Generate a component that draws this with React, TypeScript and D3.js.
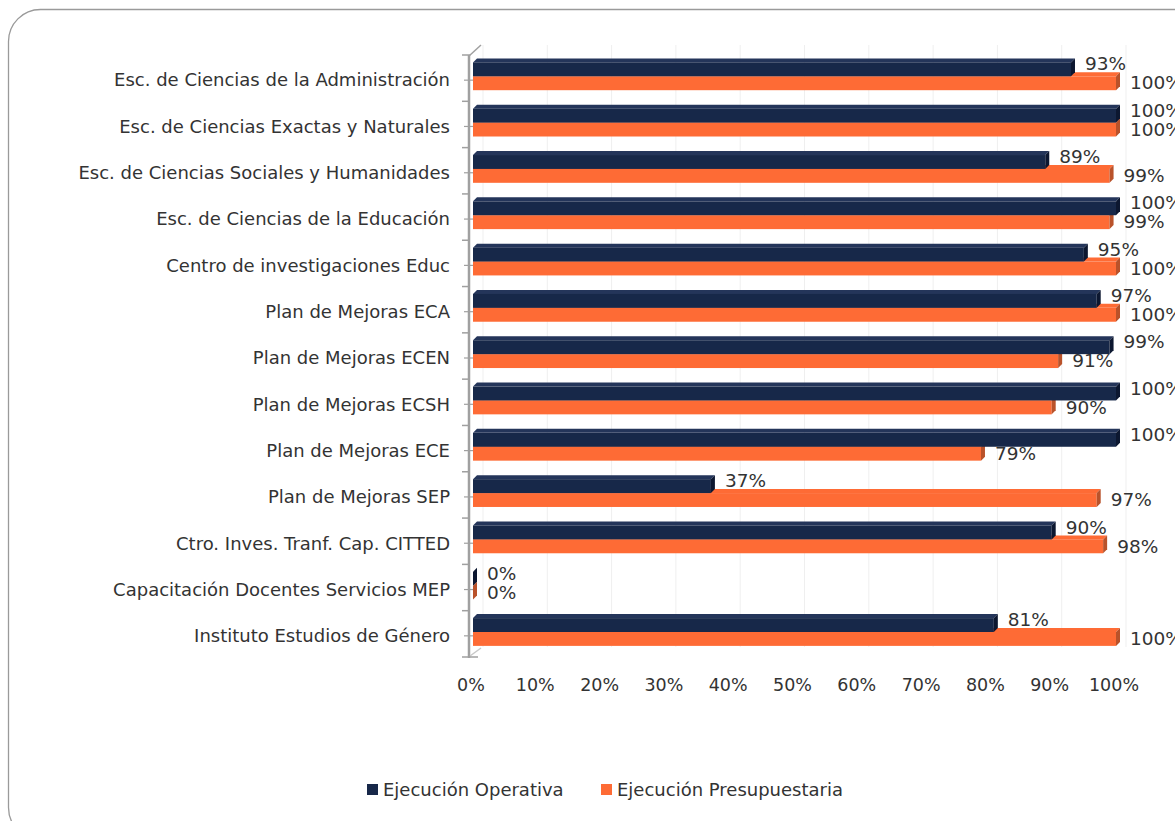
import * as d3 from 'd3';

const categories = [
  'Esc. de Ciencias de la Administración',
  'Esc. de Ciencias Exactas y Naturales',
  'Esc. de Ciencias Sociales y Humanidades',
  'Esc. de Ciencias de la Educación',
  'Centro de investigaciones Educ',
  'Plan de Mejoras ECA',
  'Plan de Mejoras ECEN',
  'Plan de Mejoras ECSH',
  'Plan de Mejoras ECE',
  'Plan de Mejoras SEP',
  'Ctro. Inves. Tranf. Cap. CITTED',
  'Capacitación Docentes Servicios MEP',
  'Instituto Estudios de Género',
];
const operativa = [0.93, 1.0, 0.89, 1.0, 0.95, 0.97, 0.99, 1.0, 1.0, 0.37, 0.9, 0, 0.81];
const presupuestaria = [1.0, 1.0, 0.99, 0.99, 1.0, 1.0, 0.91, 0.9, 0.79, 0.97, 0.98, 0, 1.0];
const seriesNames = ['Ejecución Operativa', 'Ejecución Presupuestaria'];
const xTicks = [0, 0.1, 0.2, 0.3, 0.4, 0.5, 0.6, 0.7, 0.8, 0.9, 1.0];

const FONT = '"DejaVu Sans", sans-serif';
const NAVY = '#172849';
const NAVY_SIDE = '#0c1730';
const NAVY_TOP = '#24355a';
const ORANGE = '#fe6b35';
const ORANGE_SIDE = '#b9522a';
const TXT = '#333333';
const D = 4; // profundidad 3D

export default function App() {
  const width = 1175, height = 821;
  const x = d3.scaleLinear().domain([0, 1]).range([473, 1116]);
  const y = d3.scaleBand<string>().domain(categories).range([55, 657]).paddingInner(0);
  const bw = y.bandwidth();
  const fmt = d3.format('.0%');

  const bar = (cat: string, v: number, top: number, h: number, front: string, side: string, topc: string, key: string) => {
    const y0 = (y(cat) as number) + top;
    const x0 = x(0), x1 = x(v);
    return (
      <g key={key}>
        <polygon points={`${x0},${y0} ${x0 + D},${y0 - D} ${x1 + D},${y0 - D} ${x1},${y0}`} fill={topc} />
        <rect x={x0} y={y0} width={Math.max(0, x1 - x0)} height={h} fill={front} />
        <polygon points={`${x1},${y0} ${x1 + D},${y0 - D} ${x1 + D},${y0 + h - D} ${x1},${y0 + h}`} fill={side} />
      </g>
    );
  };

  const darkTop = bw * 0.16;
  const darkH = bw * 0.30;
  const orTop = darkTop + darkH;
  const orH = bw * 0.30;

  return (
    <svg width={width} height={height} style={{ position: 'absolute', left: 0, top: 0 }}>
      <rect x={0} y={0} width={width} height={height} fill="#ffffff" />
      <rect x={8.5} y={9.5} width={1200} height={830} rx={32} ry={32} fill="none" stroke="#9a9a9a" strokeWidth={1.3} />

      {/* rejilla en el plano del fondo */}
      {xTicks.map(t => (
        <line key={'g' + t} x1={x(t) + 10} x2={x(t) + 10} y1={45} y2={647} stroke="#efefef" strokeWidth={1} />
      ))}

      {/* eje */}
      <line x1={469} x2={469} y1={55} y2={658} stroke="#a0a0a0" strokeWidth={2.5} />
      <line x1={469} y1={56} x2={481} y2={45} stroke="#a0a0a0" strokeWidth={1.5} />
      <line x1={470} y1={656} x2={481} y2={648} stroke="#c8c8c8" strokeWidth={1.5} />
      {categories.map(c => (
        <g key={'t' + c}>
          <line x1={462} x2={470} y1={y(c) as number} y2={y(c) as number} stroke="#a0a0a0" strokeWidth={1.5} />
          <line x1={464} x2={476} y1={(y(c) as number) + bw / 2 + 2} y2={(y(c) as number) + bw / 2 + 2} stroke="#a0a0a0" strokeWidth={1.2} />
        </g>
      ))}
      <line x1={462} x2={478} y1={657} y2={657} stroke="#a0a0a0" strokeWidth={1.5} />

      {/* barras */}
      {categories.map((c, i) => (
        <g key={'b' + c}>
          {bar(c, presupuestaria[i], orTop, orH, ORANGE, ORANGE_SIDE, ORANGE, 'o' + i)}
          {bar(c, operativa[i], darkTop, darkH, NAVY, NAVY_SIDE, NAVY_TOP, 'n' + i)}
        </g>
      ))}

      {/* etiquetas de valor */}
      {categories.map((c, i) => (
        <g key={'l' + c} fontFamily={FONT} fontSize={18.5} fill={TXT}>
          <text x={x(operativa[i]) + 14} y={(y(c) as number) + 9} dy="0.35em">{fmt(operativa[i])}</text>
          <text x={x(presupuestaria[i]) + 14} y={(y(c) as number) + 28} dy="0.35em">{fmt(presupuestaria[i])}</text>
        </g>
      ))}

      {/* categorías */}
      {categories.map(c => (
        <text key={'c' + c} x={450} y={(y(c) as number) + bw / 2 + 2} dy="0.35em" textAnchor="end"
          fontFamily={FONT} fontSize={18} fill={TXT}>{c}</text>
      ))}

      {/* etiquetas del eje x */}
      {xTicks.map(t => (
        <text key={'x' + t} x={x(t) - 2} y={685} dy="0.35em" textAnchor="middle"
          fontFamily={FONT} fontSize={17.5} fill={TXT}>{fmt(t)}</text>
      ))}

      {/* leyenda */}
      <g fontFamily={FONT} fontSize={18} fill={TXT}>
        <rect x={367} y={784} width={11} height={11} fill={NAVY} />
        <text x={383} y={790} dy="0.35em">{seriesNames[0]}</text>
        <rect x={601} y={784} width={11} height={11} fill={ORANGE} />
        <text x={617} y={790} dy="0.35em">{seriesNames[1]}</text>
      </g>
    </svg>
  );
}
